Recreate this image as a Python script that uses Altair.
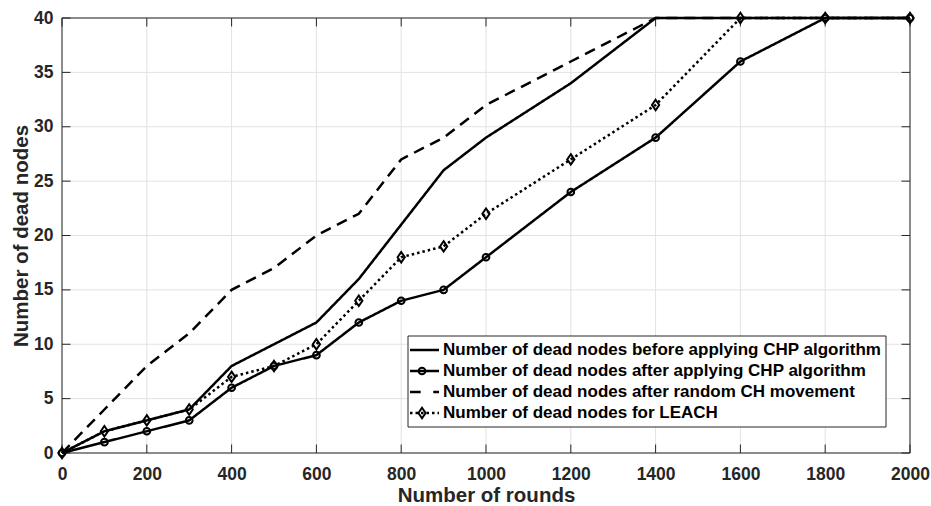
import altair as alt
import pandas as pd

# ---------------- data ----------------
rounds = [0, 100, 200, 300, 400, 500, 600, 700, 800, 900, 1000, 1200, 1400, 1600, 1800, 2000]
before_chp = [0, 2, 3, 4, 8, 10, 12, 16, 21, 26, 29, 34, 40, 40, 40, 40]
after_chp = [0, 1, 2, 3, 6, 8, 9, 12, 14, 15, 18, 24, 29, 36, 40, 40]
random_ch = [0, 4, 8, 11, 15, 17, 20, 22, 27, 29, 32, 36, 40, 40, 40, 40]
leach = [0, 2, 3, 4, 7, 8, 10, 14, 18, 19, 22, 27, 32, 40, 40, 40]

series_names = [
    "Number of dead nodes before applying CHP algorithm",
    "Number of dead nodes after applying CHP algorithm",
    "Number of dead nodes after random CH movement",
    "Number of dead nodes for LEACH",
]
x_ticks = [0, 200, 400, 600, 800, 1000, 1200, 1400, 1600, 1800, 2000]
y_ticks = [0, 5, 10, 15, 20, 25, 30, 35, 40]

rows = []
for name, vals in zip(series_names, [before_chp, after_chp, random_ch, leach]):
    for r, v in zip(rounds, vals):
        rows.append({"rounds": r, "dead": v, "series": name})
df = pd.DataFrame(rows)

# ---------------- style ----------------
W, H = 848, 435
FONT = "Liberation Sans"
AX = "#262626"
GRID = "#e2e2e2"
LW = 2.5
DASH = [11, 7]
DOT = [2.5, 3]
DIAMOND = "M0,-1.3L0.9,0L0,1.3L-0.9,0Z"

xs = alt.Scale(domain=[0, 2000], nice=False, zero=False)
ys = alt.Scale(domain=[0, 40], nice=False, zero=False)

x_enc = alt.X("rounds:Q", scale=xs, axis=alt.Axis(
    values=x_ticks, format="d", grid=False, ticks=False, tickSize=0, domain=False,
    labelFlush=False, labelFont=FONT, labelFontSize=17.5, labelFontWeight="bold",
    labelColor=AX, labelPadding=12, labelOverlap=False,
    title="Number of rounds", titleFont=FONT, titleFontSize=20.5, titleFontWeight="bold",
    titleColor=AX, titleY=48, titleBaseline="alphabetic"))
y_enc = alt.Y("dead:Q", scale=ys, axis=alt.Axis(
    values=y_ticks, format="d", grid=False, ticks=False, tickSize=0, domain=False,
    labelFlush=False, labelFont=FONT, labelFontSize=17.5, labelFontWeight="bold",
    labelColor=AX, labelPadding=9, labelOverlap=False,
    title="Number of dead nodes", titleFont=FONT, titleFontSize=20.5, titleFontWeight="bold",
    titleColor=AX, titleX=-35, titleBaseline="alphabetic", titleAngle=270))

base = alt.Chart(df)
one = pd.DataFrame({"k": [0]})
xt = pd.DataFrame({"rounds": x_ticks})
yt = pd.DataFrame({"dead": y_ticks})

# grid
grid_v = alt.Chart(xt).mark_rule(color=GRID, strokeWidth=1).encode(
    x=alt.X("rounds:Q", scale=xs), y=alt.value(0), y2=alt.value(H))
grid_h = alt.Chart(yt).mark_rule(color=GRID, strokeWidth=1).encode(
    y=alt.Y("dead:Q", scale=ys), x=alt.value(0), x2=alt.value(W))

# frame and inward ticks
frame = alt.Chart(one).mark_rect(fillOpacity=0, stroke=AX, strokeWidth=1).encode(
    x=alt.value(0), x2=alt.value(W), y=alt.value(0), y2=alt.value(H))
TL = 8.5
tick_b = alt.Chart(xt).mark_rule(color=AX, strokeWidth=1).encode(
    x=alt.X("rounds:Q", scale=xs), y=alt.value(H), y2=alt.value(H - TL))
tick_t = alt.Chart(xt).mark_rule(color=AX, strokeWidth=1).encode(
    x=alt.X("rounds:Q", scale=xs), y=alt.value(0), y2=alt.value(TL))
tick_l = alt.Chart(yt).mark_rule(color=AX, strokeWidth=1).encode(
    y=alt.Y("dead:Q", scale=ys), x=alt.value(0), x2=alt.value(TL))
tick_r = alt.Chart(yt).mark_rule(color=AX, strokeWidth=1).encode(
    y=alt.Y("dead:Q", scale=ys), x=alt.value(W), x2=alt.value(W - TL))

# data
lines = base.mark_line(color="black", strokeWidth=LW).encode(
    x=x_enc, y=y_enc, detail="series:N",
    strokeDash=alt.StrokeDash("series:N", scale=alt.Scale(
        domain=series_names, range=[[1, 0], [1, 0], DASH, DOT]), legend=None),
)
circles = base.transform_filter(alt.datum.series == series_names[1]).mark_point(
    shape="circle", filled=False, color="black", size=45, strokeWidth=2, opacity=1
).encode(x=alt.X("rounds:Q", scale=xs), y=alt.Y("dead:Q", scale=ys))
diamonds = base.transform_filter(alt.datum.series == series_names[3]).mark_point(
    shape=DIAMOND, filled=False, color="black", size=64, strokeWidth=2, opacity=1
).encode(x=alt.X("rounds:Q", scale=xs), y=alt.Y("dead:Q", scale=ys))

# legend (drawn by hand, pixel positions within the plot area)
LX0, LX1, LY0, LY1 = 346, 824, 318, 409
row_y = [332, 353, 374, 395]
SX0, SX1, MX, TX = 348, 377, 360, 381

legend_layers = [
    alt.Chart(one).mark_rect(fill="white", stroke=AX, strokeWidth=1).encode(
        x=alt.value(LX0), x2=alt.value(LX1), y=alt.value(LY0), y2=alt.value(LY1))
]
dashes = [None, None, [10.7, 12.6], DOT]
for i, name in enumerate(series_names):
    ry = row_y[i]
    rule_kw = dict(color="black", strokeWidth=LW)
    if dashes[i] is not None:
        rule_kw["strokeDash"] = dashes[i]
    legend_layers.append(alt.Chart(one).mark_rule(**rule_kw).encode(
        x=alt.value(SX0), x2=alt.value(SX1), y=alt.value(ry)))
    if i == 1:
        legend_layers.append(alt.Chart(one).mark_point(
            shape="circle", filled=False, color="black", size=45, strokeWidth=2, opacity=1
        ).encode(x=alt.value(MX), y=alt.value(ry)))
    if i == 3:
        legend_layers.append(alt.Chart(one).mark_point(
            shape=DIAMOND, filled=False, color="black", size=64, strokeWidth=2, opacity=1
        ).encode(x=alt.value(MX), y=alt.value(ry)))
    legend_layers.append(alt.Chart(pd.DataFrame({"label": [name]})).mark_text(
        align="left", baseline="middle", font=FONT, fontSize=17, fontWeight="bold",
        color="black"
    ).encode(text="label:N", x=alt.value(TX), y=alt.value(ry)))

chart = alt.layer(
    grid_v, grid_h, frame, tick_b, tick_t, tick_l, tick_r,
    lines, circles, diamonds, *legend_layers
).properties(
    width=W, height=H,
    padding={"left": 62, "top": 18, "right": 21, "bottom": 53},
    autosize=alt.AutoSizeParams(type="none"),
    background="white",
).configure_view(stroke=None)

chart.save("out.html", embed_options={"renderer": "svg", "actions": False})
